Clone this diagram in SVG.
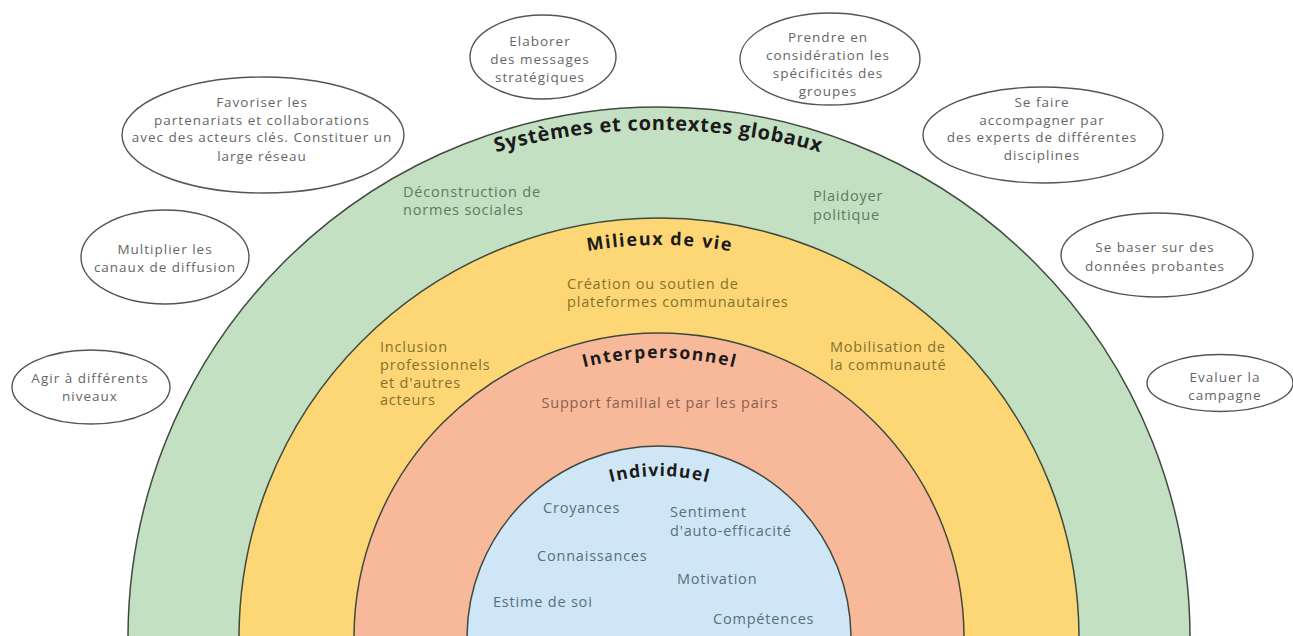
<svg xmlns="http://www.w3.org/2000/svg" width="1293" height="636" viewBox="0 0 1293 636">
<style>
  .ring { stroke: #3f4a3f; stroke-width: 1.5; }
  .bubble { fill: #ffffff; stroke: #555555; stroke-width: 1.4; }
  .bt { font-family: "Open Sans", "Liberation Sans", sans-serif; font-size: 13.5px; fill: #666666; text-anchor: middle; letter-spacing: 1px; }
  .lbl { font-family: "Open Sans", "Liberation Sans", sans-serif; font-size: 14.5px; letter-spacing: 0.8px; }
  .ttl { font-family: "Open Sans", "Liberation Sans", sans-serif; font-weight: 700; fill: #1b1b1b; }
  .g { fill: #5f7a5f; }
  .y { fill: #85702f; }
  .s { fill: #8a604e; }
  .b { fill: #55707f; }
</style>
<defs>
  <path id="arcSys" d="M 58,730 A 600,600 0 0 1 1258,730"/>
  <path id="arcMil" d="M 239,665 A 420,420 0 0 1 1079,665"/>
  <path id="arcInt" d="M 353,664 A 306,306 0 0 1 965,664"/>
  <path id="arcInd" d="M 469,666 A 190,190 0 0 1 849,666"/>
</defs>
<rect width="1293" height="636" fill="#ffffff"/>

<g id="ring-systemes">
  <circle class="ring" cx="659" cy="638" r="531" fill="#c4e0c3"/>
</g>
<g id="ring-milieux">
  <circle class="ring" cx="659" cy="638" r="420" fill="#fdd775"/>
</g>
<g id="ring-interpersonnel">
  <circle class="ring" cx="659" cy="638" r="305" fill="#f8b99a"/>
</g>
<g id="ring-individuel">
  <circle class="ring" cx="659" cy="638" r="192" fill="#cfe6f6"/>
</g>

<g id="titles">
  <text class="ttl" font-size="20"><textPath href="#arcSys" startOffset="50%" text-anchor="middle" textLength="328" lengthAdjust="spacing">Systèmes et contextes globaux</textPath></text>
  <text class="ttl" font-size="18"><textPath href="#arcMil" startOffset="50%" text-anchor="middle" textLength="144" lengthAdjust="spacing">Milieux de vie</textPath></text>
  <text class="ttl" font-size="17.5"><textPath href="#arcInt" startOffset="50%" text-anchor="middle" textLength="152" lengthAdjust="spacing">Interpersonnel</textPath></text>
  <text class="ttl" font-size="17.5"><textPath href="#arcInd" startOffset="50%" text-anchor="middle" textLength="98" lengthAdjust="spacing">Individuel</textPath></text>
</g>

<g id="labels-systemes">
  <text class="lbl g" x="403" y="197">Déconstruction de<tspan x="403" y="215">normes sociales</tspan></text>
  <text class="lbl g" x="813" y="201">Plaidoyer<tspan x="813" y="220">politique</tspan></text>
</g>
<g id="labels-milieux">
  <text class="lbl y" x="567" y="289">Création ou soutien de<tspan x="567" y="307">plateformes communautaires</tspan></text>
  <text class="lbl y" x="380" y="352">Inclusion<tspan x="380" y="370">professionnels</tspan><tspan x="380" y="388">et d'autres</tspan><tspan x="380" y="405">acteurs</tspan></text>
  <text class="lbl y" x="830" y="352">Mobilisation de<tspan x="830" y="370">la communauté</tspan></text>
</g>
<g id="labels-interpersonnel">
  <text class="lbl s" x="660" y="408" text-anchor="middle">Support familial et par les pairs</text>
</g>
<g id="labels-individuel">
  <text class="lbl b" x="543" y="513">Croyances</text>
  <text class="lbl b" x="670" y="517">Sentiment<tspan x="670" y="536">d'auto-efficacité</tspan></text>
  <text class="lbl b" x="537" y="561">Connaissances</text>
  <text class="lbl b" x="677" y="584">Motivation</text>
  <text class="lbl b" x="493" y="607">Estime de soi</text>
  <text class="lbl b" x="713" y="624">Compétences</text>
</g>

<g id="bubble-partenariats">
  <ellipse class="bubble" cx="263" cy="135" rx="141" ry="58"/>
  <text class="bt" x="262" y="107">Favoriser les<tspan x="262" y="125">partenariats et collaborations</tspan><tspan x="262" y="142">avec des acteurs clés. Constituer un</tspan><tspan x="262" y="161">large réseau</tspan></text>
</g>
<g id="bubble-canaux">
  <ellipse class="bubble" cx="165" cy="257" rx="84" ry="47"/>
  <text class="bt" x="165" y="254">Multiplier les<tspan x="165" y="272">canaux de diffusion</tspan></text>
</g>
<g id="bubble-niveaux">
  <ellipse class="bubble" cx="91" cy="387" rx="79" ry="37"/>
  <text class="bt" x="90" y="383">Agir à différents<tspan x="90" y="401">niveaux</tspan></text>
</g>
<g id="bubble-messages">
  <ellipse class="bubble" cx="543" cy="57" rx="73" ry="42"/>
  <text class="bt" x="540" y="46">Elaborer<tspan x="540" y="64">des messages</tspan><tspan x="540" y="82">stratégiques</tspan></text>
</g>
<g id="bubble-groupes">
  <ellipse class="bubble" cx="830" cy="59" rx="90" ry="46"/>
  <text class="bt" x="828" y="42">Prendre en<tspan x="828" y="60">considération les</tspan><tspan x="828" y="78">spécificités des</tspan><tspan x="828" y="96">groupes</tspan></text>
</g>
<g id="bubble-experts">
  <ellipse class="bubble" cx="1043" cy="135" rx="120" ry="48"/>
  <text class="bt" x="1042" y="107">Se faire<tspan x="1042" y="125">accompagner par</tspan><tspan x="1042" y="142">des experts de différentes</tspan><tspan x="1042" y="160">disciplines</tspan></text>
</g>
<g id="bubble-donnees">
  <ellipse class="bubble" cx="1157" cy="255" rx="96" ry="42"/>
  <text class="bt" x="1155" y="252">Se baser sur des<tspan x="1155" y="271">données probantes</tspan></text>
</g>
<g id="bubble-evaluer">
  <ellipse class="bubble" cx="1220" cy="383" rx="73" ry="28.5"/>
  <text class="bt" x="1225" y="382">Evaluer la<tspan x="1225" y="400">campagne</tspan></text>
</g>
<g id="connectors"></g>
</svg>
